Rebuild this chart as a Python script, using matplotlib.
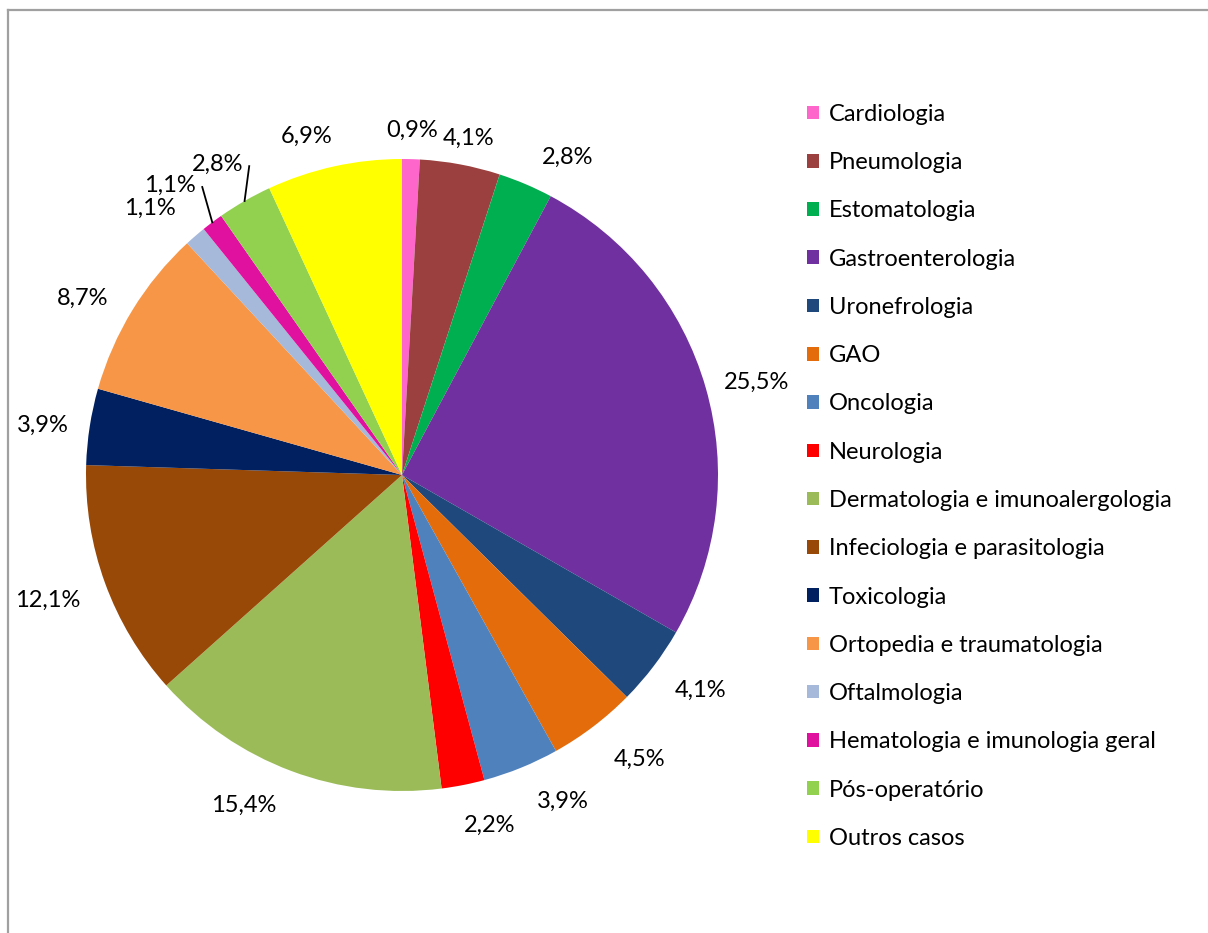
import numpy as np
import matplotlib
matplotlib.use("Agg")
from matplotlib import pyplot as plt
from matplotlib.lines import Line2D

plt.rcParams['font.family'] = ['Lato', 'DejaVu Sans']

# especialidades e percentagem de casos
categorias = ['Cardiologia', 'Pneumologia', 'Estomatologia', 'Gastroenterologia',
              'Uronefrologia', 'GAO', 'Oncologia', 'Neurologia',
              'Dermatologia e imunoalergologia', 'Infeciologia e parasitologia',
              'Toxicologia', 'Ortopedia e traumatologia', 'Oftalmologia',
              'Hematologia e imunologia geral', 'Pós-operatório', 'Outros casos']
percentagens = [0.9, 4.1, 2.8, 25.5, 4.1, 4.5, 3.9, 2.2, 15.4, 12.1, 3.9, 8.7,
                1.1, 1.1, 2.8, 6.9]
cores = ['#FF66CC', '#9B403E', '#00B050', '#7030A0', '#1F497D', '#E46C0A',
         '#4F81BD', '#FF0000', '#9BBB59', '#984807', '#002060', '#F79646',
         '#A6B9DB', '#E0119F', '#92D050', '#FFFF00']

W, H = 1208, 933
fig = plt.figure(figsize=(W / 100, H / 100), dpi=100)

# moldura cinzenta
fig.add_artist(Line2D([8 / W, 8 / W], [0, 1 - 10 / H], color='#A0A0A0', lw=1.6))
fig.add_artist(Line2D([8 / W, 1], [1 - 10 / H, 1 - 10 / H], color='#A0A0A0', lw=1.6))

cx, cy, R = 402, 475, 316
ax = fig.add_axes([(cx - R) / W, (H - cy - R) / H, 2 * R / W, 2 * R / H])

wedges, _ = ax.pie(percentagens, colors=cores, startangle=90, counterclock=False,
                   radius=1, wedgeprops=dict(linewidth=0))
ax.set_xlim(-1, 1)
ax.set_ylim(-1, 1)
ax.set_aspect('equal')
ax.axis('off')
for w in wedges:
    w.set_clip_on(False)

fs = 17
renderer = fig.canvas.get_renderer()
px = R  # pixels por unidade de dados

# pequenos acertos dos rótulos (pixels, x para a direita, y para baixo)
ajustes = [(0, 0), (0, 2), (24, 0), (0, 3), (10, 7), (18, 10), (24, 7), (18, 12),
           (-29, 7), (-7, 7), (-1, 3), (-10, 4), (0, 0), (0, 0), (0, 0), (-17, -2)]

# rótulos das fatias pequenas afastados, com linha de chamada
chamadas = {12: (-0.797, 0.845, False), 13: (-0.734, 0.918, True),
            14: (-0.585, 0.984, True)}
cum = np.cumsum([0] + percentagens)
for i, v in enumerate(percentagens):
    ang = np.deg2rad(90 - (cum[i] + v / 2) * 3.6)
    c, s = np.cos(ang), np.sin(ang)
    txt = ('%.1f%%' % v).replace('.', ',')
    t = ax.text(0, 0, txt, ha='center', va='center', fontsize=fs, clip_on=False)
    bb = t.get_window_extent(renderer)
    hw, hh = bb.width / 2 / px, bb.height / 2 / px * 0.8
    if i in chamadas:
        tx, ty, linha = chamadas[i]
        t.set_position((tx, ty))
        if linha:
            ax.plot([c, tx + hw + 0.02], [s, ty - hh + 0.02], color='black',
                    lw=1.3, clip_on=False)
        continue
    gap = 0.065
    dx, dy = ajustes[i]
    t.set_position(((1 + gap) * c + hw * c + dx / px,
                    (1 + gap) * s + hh * s - dy / px))

fig.legend(wedges, categorias, loc='upper left',
           bbox_to_anchor=(795 / W, 1 - 92 / H), frameon=False,
           fontsize=fs, handlelength=0.51, handleheight=0.51,
           handletextpad=0.42, labelspacing=1.155, borderpad=0)

fig.savefig('out.png', dpi=100)
